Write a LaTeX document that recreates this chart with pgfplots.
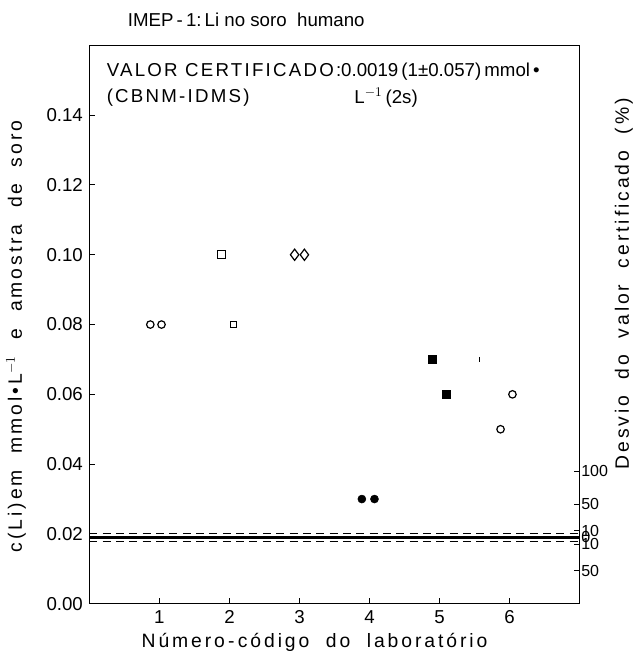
\documentclass[border=0pt]{standalone}
\usepackage{pgfplots}
\pgfplotsset{compat=1.18}
\usepackage{fontspec}
\setmainfont{Liberation Sans}
\newfontfamily\wide[LetterSpace=15]{Liberation Sans}
\newfontfamily\midw[LetterSpace=12]{Liberation Sans}
\begin{document}
\fontsize{14}{16}\selectfont
\begin{tikzpicture}
\begin{axis}[
  width=367.5pt, height=418.5pt, scale only axis,
  xmin=0, xmax=7, ymin=0, ymax=0.16,
  xtick={1,2,3,4,5,6},
  ytick={0,0.02,0.04,0.06,0.08,0.10,0.12,0.14},
  yticklabel style={/pgf/number format/.cd,fixed,fixed zerofill,precision=2},
  /pgf/number format/assume math mode=true,
  tick align=inside, major tick length=4pt,
  xtick pos=bottom, ytick pos=left,
  axis line style={line width=1pt},
  tick style={line width=0.8pt, black},
  scaled y ticks=false,
  xlabel={\wide\fontsize{14.5}{16}\selectfont Número\,-\,código\ \ do\ \ laboratório},
  ylabel={\wide\fontsize{14.5}{16}\selectfont c\,(Li)\,em\ \ mmol\,•\,L$^{-1}$\ \ e\ \ amostra\ \ de\ \ soro},
  xlabel style={yshift=2pt, xshift=-15pt},
  ylabel style={yshift=6pt, xshift=-9pt},
  clip=false,
]
\addplot[only marks, mark=o, mark size=2.8pt, line width=0.9pt] coordinates {(0.87,0.08) (1.03,0.08)};
\addplot[only marks, mark=square, mark size=3pt, line width=0.9pt] coordinates {(1.89,0.10)};
\addplot[only marks, mark=square, mark size=2.3pt, line width=0.8pt] coordinates {(2.06,0.08)};
\addplot[only marks, mark=diamond, mark size=4.2pt, line width=0.9pt] coordinates {(2.93,0.10) (3.07,0.10)};
\addplot[only marks, mark=*, mark size=3pt] coordinates {(3.89,0.03) (4.07,0.03)};
\addplot[only marks, mark=square*, mark size=3pt] coordinates {(4.89,0.07) (5.09,0.06)};
\addplot[only marks, mark=|, mark size=2pt, line width=0.8pt] coordinates {(5.57,0.07)};
\addplot[only marks, mark=o, mark size=2.8pt, line width=0.9pt] coordinates {(5.87,0.05) (6.04,0.06)};
\addplot[line width=1.6pt] coordinates {(0,0.019) (7,0.019)};
\addplot[line width=0.8pt, dash pattern=on 6pt off 4pt] coordinates {(0,0.0201) (7,0.0201)};
\addplot[line width=0.8pt, dash pattern=on 6pt off 4pt] coordinates {(0,0.0179) (7,0.0179)};
\node[anchor=west, inner sep=0pt] at (rel axis cs:0.035,0.952) {{\midw VALOR\ CERTIFICADO:}0.0019\,(1±0.057)\,mmol\,•};
\node[anchor=west, inner sep=0pt] at (rel axis cs:0.035,0.907) {\midw (CBNM-IDMS)};
\node[anchor=west, inner sep=0pt] at (rel axis cs:0.54,0.907) {L$^{-1}$\,(2s)};
\node[anchor=base, inner sep=0pt] at ([yshift=14pt]rel axis cs:0.32,1) {IMEP\,-\,1:\,Li\ no\ soro\ \ humano};
\node[rotate=90, anchor=south, inner sep=0pt] at ([xshift=40pt]rel axis cs:1,0.573) {\wide\fontsize{14.5}{16}\selectfont Desvio\ \ do\ \ valor\ \ certificado\ \ (\%)};
\coordinate (topc) at (rel axis cs:0.3,1);
\end{axis}
\begin{axis}[
  width=367.5pt, height=418.5pt, scale only axis,
  xmin=0, xmax=7, ymin=0, ymax=0.16,
  axis x line=none, axis y line*=right,
  axis line style={line width=1pt},
  tick align=inside, major tick length=4pt,
  tick style={line width=0.8pt, black},
  ytick={0.0095,0.0171,0.019,0.0209,0.0285,0.038},
  yticklabels={50,10,0,10,50,100},
  yticklabel style={font=\fontsize{12}{12}\selectfont, inner sep=1pt},
  /pgf/number format/assume math mode=true,
]
\addplot[draw=none] coordinates {(0,0)};
\end{axis}
\path ([yshift=34pt]topc);
\end{tikzpicture}
\end{document}
